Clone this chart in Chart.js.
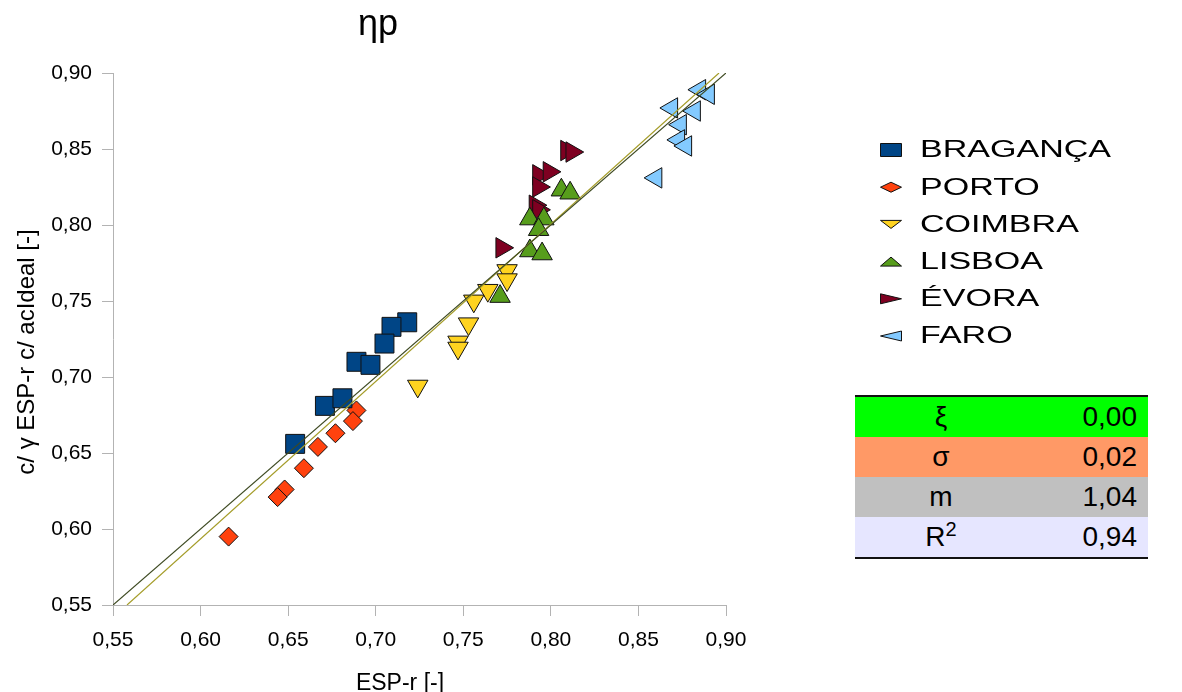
<!DOCTYPE html>
<html>
<head>
<meta charset="utf-8">
<script src="https://cdn.jsdelivr.net/npm/chart.js@4.4.1/dist/chart.umd.min.js"></script>
<style>
body { margin: 0; background: #fff; }
#wrap { position: relative; width: 1182px; height: 692px; }
#stats { position: absolute; left: 855px; top: 395px; width: 293px; border-collapse: collapse;
  font-family: 'Liberation Sans', Arial, sans-serif; font-size: 28px; color: #000;
  border-top: 2px solid #111; border-bottom: 2px solid #111; }
#stats td { height: 40px; padding: 0; line-height: 40px; }
#stats td.sym { text-align: center; width: 172px; }
#stats td.val { text-align: right; padding-right: 11px; }
#stats sup { font-size: 20px; line-height: 0; vertical-align: 10px; }
</style>
</head>
<body>
<div id="wrap">
  <canvas id="chart" width="1182" height="692"></canvas>
  <table id="stats"></table>
</div>
<script>
// series data (x = ESP-r, y = ESP-r c/ acIdeal)
const seriesNames = ['BRAGANÇA', 'PORTO', 'COIMBRA', 'LISBOA', 'ÉVORA', 'FARO'];

const bragancaX = [0.718, 0.709, 0.705, 0.689, 0.697, 0.671, 0.681, 0.654];
const bragancaY = [0.736, 0.733, 0.722, 0.710, 0.708, 0.681, 0.686, 0.656];

const portoX = [0.689, 0.687, 0.677, 0.667, 0.659, 0.648, 0.644, 0.616];
const portoY = [0.678, 0.671, 0.663, 0.654, 0.640, 0.626, 0.621, 0.595];

const coimbraX = [0.775, 0.775, 0.764, 0.756, 0.753, 0.747, 0.747, 0.724];
const coimbraY = [0.770, 0.764, 0.757, 0.750, 0.735, 0.723, 0.719, 0.694];

const lisboaX = [0.771, 0.788, 0.795, 0.788, 0.796, 0.793, 0.806, 0.811];
const lisboaY = [0.753, 0.783, 0.781, 0.804, 0.804, 0.797, 0.823, 0.821];

const evoraX = [0.809, 0.812, 0.793, 0.799, 0.793, 0.791, 0.793, 0.772];
const evoraY = [0.849, 0.848, 0.833, 0.835, 0.825, 0.813, 0.810, 0.785];

const faroX = [0.885, 0.890, 0.869, 0.882, 0.874, 0.873, 0.877, 0.860];
const faroY = [0.889, 0.886, 0.877, 0.875, 0.866, 0.856, 0.852, 0.831];

// reference lines
const identityX = [0.55, 0.90];
const identityY = [0.55, 0.90];
const fitX = [0.558, 0.896];
const fitY = [0.55, 0.90];

const axisTicks = [0.55, 0.60, 0.65, 0.70, 0.75, 0.80, 0.85, 0.90];

const statLabels = ['ξ', 'σ', 'm', 'R<sup>2</sup>'];
const statValues = ['0,00', '0,02', '1,04', '0,94'];

// styles
const seriesColors = ['#004586', '#ff420e', '#ffd320', '#579d1c', '#7e0021', '#83caff'];
const pointStyles = ['rect', 'rectRot', 'triangle', 'triangle', 'triangle', 'triangle'];
const pointRotations = [0, 0, 180, 0, 90, 270];
const pointRadii = [13.4, 9.5, 11.8, 11.8, 11.8, 11.8];
const legendShapes = ['square', 'diamond', 'down', 'up', 'right', 'left'];
const statColors = ['#00ff00', '#ff9966', '#c0c0c0', '#e6e6ff'];
const FONT = "'Liberation Sans', Arial, sans-serif";

const xs = [bragancaX, portoX, coimbraX, lisboaX, evoraX, faroX];
const ys = [bragancaY, portoY, coimbraY, lisboaY, evoraY, faroY];

function pairs(a, b) {
    return a.map((v, i) => ({x: v, y: b[i]}));
}

let datasets = seriesNames.map((name, i) => ({
    label: name,
    data: pairs(xs[i], ys[i]),
    backgroundColor: seriesColors[i],
    borderColor: '#111',
    borderWidth: 1,
    pointStyle: pointStyles[i],
    rotation: pointRotations[i],
    pointRadius: pointRadii[i],
    pointHoverRadius: pointRadii[i],
    order: 1
}));

datasets.push({
    label: 'y = x',
    data: pairs(identityX, identityY),
    showLine: true,
    borderColor: '#3e4a22',
    borderWidth: 1.2,
    pointRadius: 0,
    order: 0
});
datasets.push({
    label: 'fit',
    data: pairs(fitX, fitY),
    showLine: true,
    borderColor: '#a59d2a',
    borderWidth: 1.2,
    pointRadius: 0,
    order: 0
});

// stats table
const table = document.getElementById('stats');
statLabels.forEach((lab, i) => {
    let tr = document.createElement('tr');
    tr.style.background = statColors[i];
    tr.innerHTML = '<td class="sym">' + lab + '</td><td class="val">' + statValues[i] + '</td>';
    table.appendChild(tr);
});

function legendMarker(ctx, shape, cx, cy) {
    ctx.beginPath();
    if (shape === 'square') {
        ctx.rect(cx - 10.5, cy - 6.5, 21, 13);
    } else if (shape === 'diamond') {
        ctx.moveTo(cx - 10.5, cy); ctx.lineTo(cx, cy - 5); ctx.lineTo(cx + 10.5, cy); ctx.lineTo(cx, cy + 5);
    } else if (shape === 'down') {
        ctx.moveTo(cx - 10.5, cy - 4); ctx.lineTo(cx + 10.5, cy - 4); ctx.lineTo(cx, cy + 4);
    } else if (shape === 'up') {
        ctx.moveTo(cx - 10.5, cy + 4.5); ctx.lineTo(cx + 10.5, cy + 4.5); ctx.lineTo(cx, cy - 4.5);
    } else if (shape === 'right') {
        ctx.moveTo(cx - 10.5, cy - 5); ctx.lineTo(cx - 10.5, cy + 5); ctx.lineTo(cx + 10.5, cy);
    } else {
        ctx.moveTo(cx + 10.5, cy - 5); ctx.lineTo(cx + 10.5, cy + 5); ctx.lineTo(cx - 10.5, cy);
    }
    ctx.closePath();
    ctx.fill();
    ctx.stroke();
}

const decorations = {
    id: 'decorations',
    afterDraw(chart) {
        const ctx = chart.ctx;
        ctx.save();
        ctx.fillStyle = '#000';
        // title
        ctx.font = '36px ' + FONT;
        ctx.textAlign = 'center';
        ctx.textBaseline = 'alphabetic';
        ctx.fillText('ηp', 378, 35);
        // axis titles
        ctx.font = '23px ' + FONT;
        ctx.fillText('ESP-r [-]', 400, 690);
        ctx.save();
        ctx.translate(34, 352);
        ctx.rotate(-Math.PI / 2);
        ctx.font = '24px ' + FONT;
        ctx.fillText('c/ γ ESP-r c/ acIdeal [-]', 0, 0);
        ctx.restore();
        // legend
        ctx.lineWidth = 1;
        ctx.strokeStyle = '#111';
        seriesNames.forEach((name, i) => {
            const cy = 150 + i * 37.2;
            ctx.fillStyle = seriesColors[i];
            legendMarker(ctx, legendShapes[i], 891, cy);
            ctx.save();
            ctx.fillStyle = '#000';
            ctx.font = '23px ' + FONT;
            ctx.textAlign = 'left';
            ctx.textBaseline = 'middle';
            ctx.translate(920, cy + 1);
            ctx.scale(1.48, 1);
            ctx.fillText(name, 0, 0);
            ctx.restore();
        });
        ctx.restore();
    }
};

function fmt(v) {
    return Number(v).toFixed(2).replace('.', ',');
}

const axisCommon = {
    type: 'linear',
    min: 0.55,
    max: 0.90,
    afterBuildTicks: s => { s.ticks = axisTicks.map(v => ({value: v})); },
    ticks: {
        color: '#000',
        font: {family: FONT, size: 21},
        callback: fmt
    },
    grid: {
        drawOnChartArea: false,
        tickLength: 11,
        color: '#b3b3b3'
    },
    border: {color: '#b3b3b3'}
};

new Chart(document.getElementById('chart').getContext('2d'), {
    type: 'scatter',
    data: {datasets: datasets},
    options: {
        responsive: false,
        animation: false,
        events: [],
        layout: {padding: {top: 73, right: 456, left: 0, bottom: 0}},
        plugins: {
            legend: {display: false},
            tooltip: {enabled: false}
        },
        scales: {
            x: Object.assign({}, axisCommon, {
                ticks: Object.assign({}, axisCommon.ticks, {padding: 12, maxRotation: 0}),
                afterFit: s => { s.height = 87; }
            }),
            y: Object.assign({}, axisCommon, {
                ticks: Object.assign({}, axisCommon.ticks, {padding: 10}),
                afterFit: s => { s.width = 113; }
            })
        }
    },
    plugins: [decorations]
});
</script>
</body>
</html>
